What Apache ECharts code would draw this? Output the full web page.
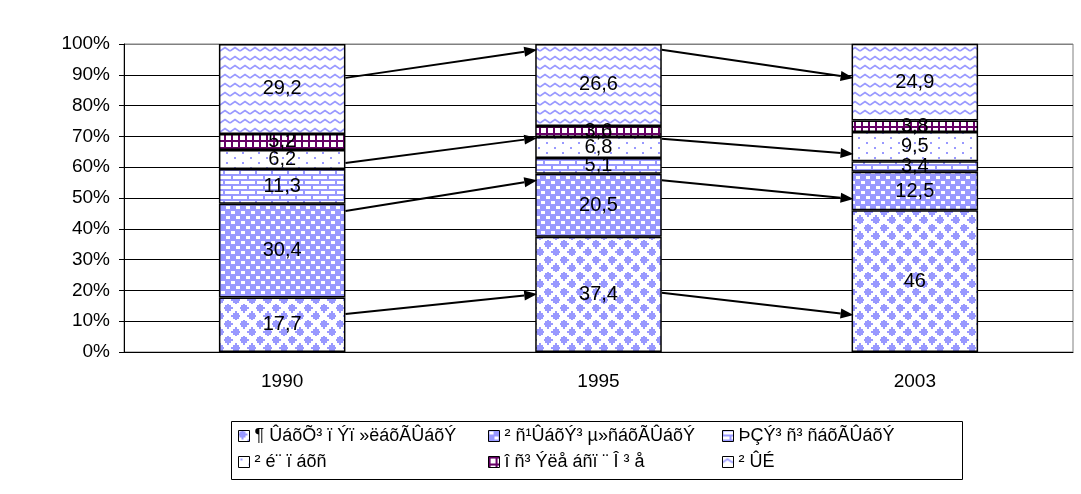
<!DOCTYPE html>
<html><head><meta charset="utf-8">
<script src="https://cdn.jsdelivr.net/npm/echarts@6/dist/echarts.min.js"></script>
<style>html,body{margin:0;padding:0;background:#fff}#c{width:1081px;height:494px}</style>
</head><body><div id="c"></div>
<script>
// ---- data ----
const categories = ['1990', '1995', '2003'];
const seriesNames = [
  '¶ ÛáõÕ³ ï Ýï »ëáõÃÛáõÝ',
  '² ñ¹ÛáõÝ³ µ»ñáõÃÛáõÝ',
  'ÞÇÝ³ ñ³ ñáõÃÛáõÝ',
  '² é¨ ï áõñ',
  'î ñ³ Ýëå áñï ¨ Î ³ å',
  '² ÛÉ'
];
const agriculture   = [17.7, 37.4, 46];
const industry      = [30.4, 20.5, 12.5];
const construction  = [11.3, 5.1, 3.4];
const trade         = [6.2, 6.8, 9.5];
const transport     = [5.2, 3.6, 3.8];
const other         = [29.2, 26.6, 24.9];
// arrows: [from category index, value at start, value at end]
const arrows = [
  [0, 89.0, 98.1], [0, 61.4, 69.5], [0, 45.8, 55.8], [0, 12.3, 18.8],
  [1, 98.1, 89.0], [1, 69.2, 64.3], [1, 55.8, 49.7], [1, 19.2, 12.0]
];

// ---- patterns ----
const BLUE = '#9999FF', PURPLE = '#660066';
function tile(w, h, draw) {
  const c = document.createElement('canvas'); c.width = w; c.height = h;
  const g = c.getContext('2d'); g.fillStyle = '#fff'; g.fillRect(0, 0, w, h);
  draw(g); return { image: c, repeat: 'repeat' };
}
function plusDiamond(g, cx, cy) {
  g.fillRect(cx - 1, cy - 5, 2, 10); g.fillRect(cx - 5, cy - 1, 10, 2);
  g.fillRect(cx - 3, cy - 3, 6, 6);
}
const pDiamond = tile(16, 16, g => { g.fillStyle = BLUE; plusDiamond(g, 4, 4); plusDiamond(g, 12, 12); });
const pChecker = tile(10, 10, g => { g.fillStyle = BLUE; g.fillRect(0, 0, 10, 10); g.fillStyle = '#fff';
  g.fillRect(1, 1, 4, 3); g.fillRect(6, 6, 4, 3); });
const pBrick = tile(16, 10, g => { g.fillStyle = BLUE; g.fillRect(0, 0, 16, 10); g.fillStyle = '#fff';
  g.fillRect(1, 1, 14, 3); g.fillRect(9, 6, 7, 3); g.fillRect(0, 6, 7, 3); });
const pDots = tile(16, 10, g => { g.fillStyle = BLUE; g.fillRect(2, 2, 2, 2); g.fillRect(10, 7, 2, 2); });
const pGrid = tile(7, 7, g => { g.fillStyle = PURPLE; g.fillRect(0, 0, 2, 7); g.fillRect(0, 0, 7, 2); });
const pZig = tile(10, 9, g => { g.strokeStyle = BLUE; g.lineWidth = 1.6; g.beginPath(); g.moveTo(0, 6); g.lineTo(5, 2.5); g.lineTo(10, 6); g.stroke(); });
const patterns = [pDiamond, pChecker, pBrick, pDots, pGrid, pZig];
const values = [agriculture, industry, construction, trade, transport, other];

const FONT = 'Liberation Sans';
const series = values.map((v, i) => ({
  name: seriesNames[i], type: 'bar', stack: 'all', data: v, barWidth: '40%',
  itemStyle: { color: patterns[i], borderColor: '#000', borderWidth: 1.5 },
  label: { show: true, position: 'inside', color: '#000', fontFamily: FONT, fontSize: 20,
    formatter: p => String(p.value).replace('.', ',') }
}));

const legendCommon = { orient: 'vertical', top: 427, itemWidth: 11, itemHeight: 11, itemGap: 8, icon: 'rect',
  itemStyle: { borderColor: '#000', borderWidth: 1 },
  textStyle: { fontFamily: FONT, fontSize: 18, color: '#000' }, padding: 0 };

const chart = echarts.init(document.getElementById('c'), null, { renderer: 'canvas' });
chart.setOption({
  animation: false, backgroundColor: '#fff',
  grid: { left: 124, right: 8, top: 44, bottom: 142, show: true, borderColor: '#808080', borderWidth: 1 },
  xAxis: { type: 'category', data: categories,
    axisLine: { lineStyle: { color: '#000', width: 1 } },
    axisTick: { length: 5, lineStyle: { color: '#000' } },
    axisLabel: { color: '#000', fontFamily: FONT, fontSize: 19, margin: 20 } },
  yAxis: { type: 'value', min: 0, max: 100, interval: 10,
    axisLine: { show: true, lineStyle: { color: '#000', width: 1 } },
    axisTick: { show: true, length: 5, lineStyle: { color: '#000' } },
    axisLabel: { color: '#000', fontFamily: FONT, fontSize: 19, margin: 14, formatter: '{value}%' },
    splitLine: { lineStyle: { color: ['#000','#000','#000','#000','#000','#000','#000','#000','#000','#000','#808080'], width: 1 } } },
  legend: [
    Object.assign({ left: 238, data: [seriesNames[0], seriesNames[3]] }, legendCommon),
    Object.assign({ left: 488, data: [seriesNames[1], seriesNames[4]] }, legendCommon),
    Object.assign({ left: 722, data: [seriesNames[2], seriesNames[5]] }, legendCommon)
  ],
  series: series
});

function drawArrows() {
  const p0 = chart.convertToPixel({ gridIndex: 0 }, [0, 0]);
  const p1 = chart.convertToPixel({ gridIndex: 0 }, [1, 0]);
  const half = (p1[0] - p0[0]) * 0.4 / 2;
  const els = [{ type: 'rect', shape: { x: 231.5, y: 421.5, width: 731, height: 58 },
    style: { fill: null, stroke: '#000', lineWidth: 1 }, z: 0 }];
  arrows.forEach(([ci, v0, v1]) => {
    const a = chart.convertToPixel({ gridIndex: 0 }, [ci, v0]);
    const b = chart.convertToPixel({ gridIndex: 0 }, [ci + 1, v1]);
    const x0 = a[0] + half, y0 = a[1], x1 = b[0] - half + 2, y1 = b[1];
    const ang = Math.atan2(y1 - y0, x1 - x0);
    const L = 13, W = 5;
    const bx = x1 - L * Math.cos(ang), by = y1 - L * Math.sin(ang);
    els.push({ type: 'line', shape: { x1: x0, y1: y0, x2: bx, y2: by }, style: { stroke: '#000', lineWidth: 2 }, z: 100 });
    els.push({ type: 'polygon', shape: { points: [[x1, y1], [bx + W * Math.sin(ang), by - W * Math.cos(ang)], [bx - W * Math.sin(ang), by + W * Math.cos(ang)]] },
      style: { fill: '#000' }, z: 100 });
  });
  chart.setOption({ graphic: { elements: els } });
}
drawArrows();
</script></body></html>
